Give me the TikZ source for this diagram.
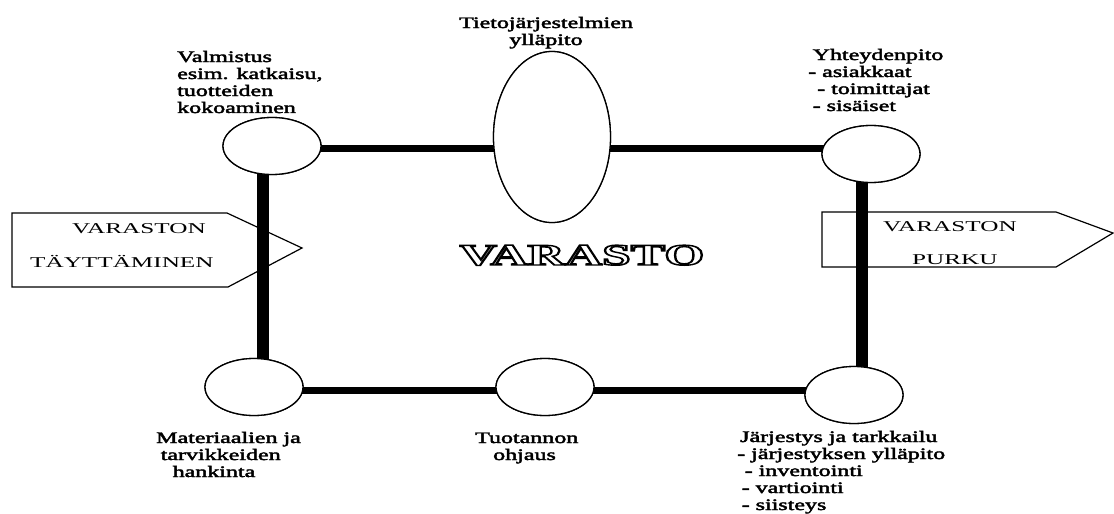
\documentclass[tikz,border=0pt]{standalone}
\usepackage{fontspec}
\usepackage{graphicx}
\setmainfont{Liberation Serif}
\usetikzlibrary{shapes.geometric}
\newcommand\stl[3]{\scalebox{#1}[1]{\fontsize{16}{17}\selectfont\special{pdf:literal direct 2 Tr 0.35 w}\begin{tabular}[t]{@{}#2@{}}#3\end{tabular}\special{pdf:literal direct 0 Tr}}}
\newcommand\sar[1]{\scalebox{1.68}[1]{\fontsize{15}{17}\selectfont #1}}
\tikzset{
  ell/.style={ellipse, draw, line width=1.3, fill=white, inner sep=0, minimum width=98, minimum height=57},
  hline/.style={line width=7},
  vline/.style={line width=12},
  sign/.style={draw, line width=1.2, fill=white, line join=miter},
  lab/.style={inner sep=0},
  arr/.style={inner sep=0},
}
\begin{document}
\begin{tikzpicture}[x=1pt,y=-1pt]
\useasboundingbox (0,0) rectangle (1114,514);
% signs
\draw[sign] (12,213) -- (227,213) -- (302,248) -- (228,287) -- (12,287) -- cycle;
\draw[sign] (822,212) -- (1056,212) -- (1113,233) -- (1056,267) -- (822,267) -- cycle;
\node[arr, anchor=base west] (lv) at (72,233) {\sar{VARASTON}};
\node[arr, anchor=base west] (lt) at (30,267) {\sar{TÄYTTÄMINEN}};
\node[arr, anchor=base west] (rv) at (883,231) {\sar{VARASTON}};
\node[arr, anchor=base west] (rp) at (912,264) {\sar{PURKU}};
% ellipse nodes
\path (272,146) node[ell] (tl) {}
      (552,137) node[ell, minimum width=117, minimum height=171] (big) {}
      (871,154) node[ell] (tr) {}
      (254,387) node[ell] (bl) {}
      (545,387) node[ell] (bm) {}
      (854,395) node[ell] (br) {};
% connectors
\draw[hline] ([yshift=-2]tl.center) -- ([yshift=-2]tl.center -| tr.center);
\draw[hline] ([yshift=-3]bl.center) -- ([yshift=-3]bl.center -| br.center);
\draw[vline] ([xshift=-9]tl.center) -- ([xshift=-9]tl.center |- bl.center);
\draw[vline] ([xshift=-9]tr.center) -- ([xshift=-9]tr.center |- br.center);
% ellipses drawn again on top of the connector ends
\path (tl) node[ell] (tlb) {}
      (big) node[ell, minimum width=117, minimum height=171] (bigb) {}
      (tr) node[ell] (trb) {}
      (bl) node[ell] (blb) {}
      (bm) node[ell] (bmb) {}
      (br) node[ell] (brb) {};
% title
\node[inner sep=0, anchor=base] (title) at (582,265)
  {\scalebox{1.72}[1]{\fontsize{30}{30}\selectfont\bfseries\special{pdf:literal direct 1 Tr 1.4 w}VARASTO\special{pdf:literal direct 0 Tr}}};
% labels
\node[lab, anchor=base west] (valm) at (177,62) {\stl{1.5}{l}{Valmistus\\esim. katkaisu,\\tuotteiden\\kokoaminen}};
\node[lab, anchor=base] (tieto) at (546,28) {\stl{1.5}{c}{Tietojärjestelmien\\ylläpito}};
\node[lab, anchor=base west] (yht) at (808,60) {\stl{1.5}{l}{\hspace*{3pt}Yhteydenpito\\- asiakkaat\\\hspace*{6pt}- toimittajat\\\hspace*{3pt}- sisäiset}};
\node[lab, anchor=base west] (mat) at (156,443) {\stl{1.5}{l}{Materiaalien ja\\\hspace*{3pt}tarvikkeiden\\\hspace*{11pt}hankinta}};
\node[lab, anchor=base west] (tuot) at (475,443) {\stl{1.5}{l}{Tuotannon\\\hspace*{12pt}ohjaus}};
\node[lab, anchor=base west] (jarj) at (737,442) {\stl{1.5}{l}{\hspace*{2pt}Järjestys ja tarkkailu\\- järjestyksen ylläpito\\\hspace*{5pt}- inventointi\\\hspace*{3pt}- vartiointi\\\hspace*{3pt}- siisteys}};
\end{tikzpicture}
\end{document}
